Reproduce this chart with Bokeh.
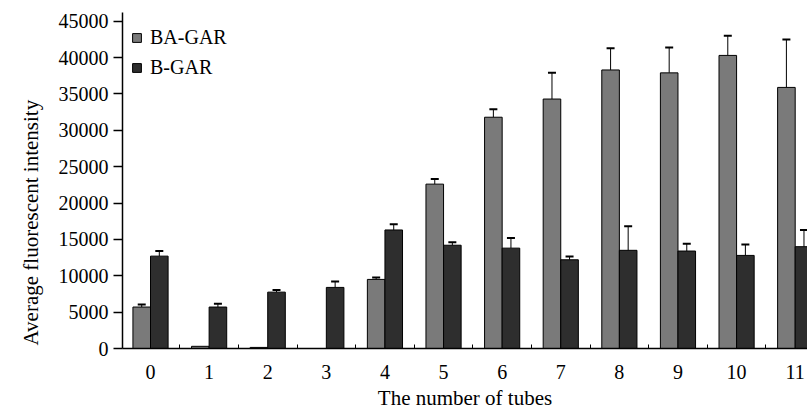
from bokeh.plotting import figure
from bokeh.models import ColumnDataSource, FixedTicker, Whisker, TeeHead, Range1d, Legend, LegendItem, Title
from bokeh.embed import file_html
from bokeh.resources import INLINE

tubes = list(range(12))
tube_labels = [str(t) for t in tubes]
ba_gar = [5700, 300, 150, 0, 9500, 22600, 31800, 34300, 38300, 37900, 40300, 35900]
ba_err = [350, 0, 0, 0, 250, 700, 1100, 3600, 3000, 3500, 2700, 6600]
b_gar = [12700, 5700, 7750, 8400, 16300, 14200, 13800, 12200, 13500, 13400, 12800, 14000]
b_err = [700, 450, 300, 800, 800, 400, 1400, 450, 3300, 1000, 1500, 2300]
y_ticks = list(range(0, 45001, 5000))
x_title = "The number of tubes"
y_title = "Average fluorescent intensity"

FONT = "Liberation Serif"
BA_COLOR = "#7a7a7a"
B_COLOR = "#2e2e2e"
OFF = 0.15
W = 0.30

p = figure(width=807, height=412, output_backend="svg", toolbar_location=None,
           x_range=Range1d(-0.478, 11.21), y_range=Range1d(0, 46200),
           min_border_left=122, min_border_right=0, min_border_top=12, min_border_bottom=64)
p.outline_line_color = None
p.xgrid.grid_line_color = None
p.ygrid.grid_line_color = None
p.background_fill_color = "white"

ba_src = ColumnDataSource(dict(x=[t - OFF for t in tubes], top=ba_gar))
b_src = ColumnDataSource(dict(x=[t + OFF for t in tubes], top=b_gar))
r1 = p.vbar(x="x", top="top", width=W, source=ba_src, fill_color=BA_COLOR, line_color="black", line_width=1)
r2 = p.vbar(x="x", top="top", width=W, source=b_src, fill_color=B_COLOR, line_color="black", line_width=1)

def err_src(vals, errs, off):
    xs, lo, hi = [], [], []
    for t, v, e in zip(tubes, vals, errs):
        if e > 0:
            xs.append(t + off); lo.append(v); hi.append(v + e)
    return ColumnDataSource(dict(x=xs, lower=lo, upper=hi))

for vals, errs, off in [(ba_gar, ba_err, -OFF), (b_gar, b_err, OFF)]:
    w = Whisker(base="x", lower="lower", upper="upper", source=err_src(vals, errs, off),
                dimension="height", line_color="black", line_width=1,
                upper_head=TeeHead(size=8, line_width=2, line_color="black"), lower_head=None)
    p.add_layout(w)

# axes
xa = p.xaxis[0]
xa.ticker = FixedTicker(ticks=tubes, minor_ticks=[t + 0.5 for t in tubes[:-1]])
xa.major_label_overrides = {t: l for t, l in zip(tubes, tube_labels)}
xa.major_tick_in = 0
xa.major_tick_out = 0
xa.minor_tick_in = 4
xa.minor_tick_out = 0
xa.axis_line_width = 1.5
xa.axis_line_color = "black"
xa.major_label_text_font = FONT
xa.major_label_text_font_size = "20px"
xa.major_label_text_color = "black"
xa.major_label_standoff = 16
xa.axis_label = x_title
xa.axis_label_text_font = FONT
xa.axis_label_text_font_size = "21px"
xa.axis_label_text_font_style = "normal"
xa.axis_label_text_color = "black"
xa.axis_label_standoff = 4

ya = p.yaxis[0]
ya.ticker = FixedTicker(ticks=y_ticks)
ya.major_tick_in = 0
ya.major_tick_out = 9
ya.minor_tick_in = 0
ya.minor_tick_out = 0
ya.axis_line_width = 1.5
ya.axis_line_color = "black"
ya.major_tick_line_width = 1.5
ya.major_label_text_font = FONT
ya.major_label_text_font_size = "20px"
ya.major_label_text_color = "black"
ya.major_label_standoff = 5

ytitle = Title(text=y_title, align="left", offset=3, standoff=26,
               text_font=FONT, text_font_size="21px", text_font_style="normal", text_color="black")
p.add_layout(ytitle, "left")

legend = Legend(items=[LegendItem(label="BA-GAR", renderers=[r1]), LegendItem(label="B-GAR", renderers=[r2])],
                location=(9, 269), padding=0, margin=0, spacing=7,
                glyph_width=11, glyph_height=11, label_standoff=8,
                label_text_font=FONT, label_text_font_size="20px", label_text_color="black",
                border_line_color=None, background_fill_alpha=0)
p.add_layout(legend)

open("out.html", "w").write(file_html(p, INLINE))
